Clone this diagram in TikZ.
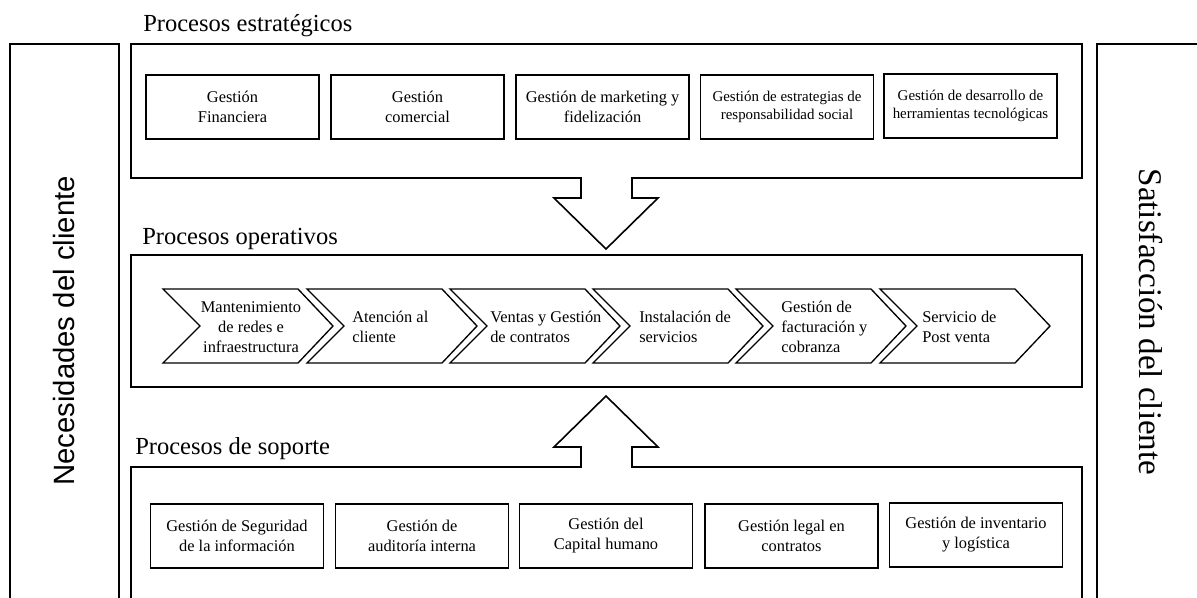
\documentclass[tikz,border=0pt]{standalone}
\usepackage{fontspec}
\setmainfont{Liberation Serif}
\newfontfamily\sidesans{Liberation Sans}
\begin{document}
\begin{tikzpicture}[x=0.75pt,y=-0.75pt,
  panel/.style={draw=black,line width=1.2pt},
  outline/.style={draw=black,line width=1.2pt,line join=miter},
  procbox/.style={draw=black,line width=1.2pt,rectangle,inner sep=2pt,
    minimum width=130pt,minimum height=48pt,align=center,
    font=\fontsize{12.3}{15}\selectfont},
  smallbox/.style={procbox,font=\fontsize{11.2}{13.5}\selectfont},
  chevshape/.style={draw=black,line width=1pt,line join=miter},
  chevtext/.style={inner sep=0pt,align=left,anchor=west,
    font=\fontsize{12.3}{15}\selectfont},
  title/.style={inner sep=0pt,anchor=base west,font=\fontsize{18.4}{22}\selectfont}]

\useasboundingbox (0,0) rectangle (1197,597);
\clip (0,0) rectangle (1197,597);

% side panels
\draw[panel] (10,640) -- (10,44) -- (119,44) -- (119,640);
\draw[panel] (1097,640) -- (1097,44) -- (1240,44);
\node[rotate=90,inner sep=0pt,font=\sidesans\fontsize{22}{26}\selectfont] (need) at (64,331) {Necesidades del cliente};
\node[rotate=-90,inner sep=0pt,font=\fontsize{24.8}{28}\selectfont] (satis) at (1151,322) {Satisfacción del cliente};

% strategic block with the downward arrow
\node[title] (tstrat) at (143,31) {Procesos estratégicos};
\draw[outline] (131,44) -- (1082,44) -- (1082,178) -- (632,178) -- (632,198)
  -- (658,198) -- (606,249) -- (554,198) -- (581,198) -- (581,178)
  -- (131,178) -- cycle;
\node[procbox] (s1) at (232.5,107) {Gestión\\Financiera};
\node[procbox] (s2) at (417.5,107) {Gestión\\comercial};
\node[procbox] (s3) at (602.5,107) {Gestión de marketing y\\fidelización};
\node[smallbox] (s4) at (787,107) {Gestión de estrategias de\\responsabilidad social};
\node[smallbox] (s5) at (970.5,106) {Gestión de desarrollo de\\herramientas tecnológicas};

% operational block
\node[title] (toper) at (142,244) {Procesos operativos};
\draw[outline] (131,255) rectangle (1082,387);
\foreach \x in {163,307,450,593,736,880}{
  \draw[chevshape] (\x,289) -- ++(135,0) -- ++(35,37) -- ++(-35,37)
    -- ++(-135,0) -- ++(37,-37) -- cycle;
}
\node[chevtext,anchor=center,align=center] (c1) at (251,327) {Mantenimiento\\de redes e\\infraestructura};
\node[chevtext] (c2) at (352,327) {Atención al\\cliente};
\node[chevtext] (c3) at (490,327) {Ventas y Gestión\\de contratos};
\node[chevtext] (c4) at (639,327) {Instalación de\\servicios};
\node[chevtext] (c5) at (781,327) {Gestión de\\facturación y\\cobranza};
\node[chevtext] (c6) at (922,327) {Servicio de\\Post venta};

% support block with the upward arrow
\node[title] (tsup) at (135,454) {Procesos de soporte};
\draw[outline] (131,640) -- (131,467) -- (581,467) -- (581,447) -- (554,447)
  -- (606,396) -- (658,447) -- (632,447) -- (632,467) -- (1082,467) -- (1082,640);
\node[procbox] (p1) at (237,536) {Gestión de Seguridad\\de la información};
\node[procbox] (p2) at (422,536) {Gestión de\\auditoría interna};
\node[procbox] (p3) at (606,536) {Gestión del\\Capital humano};
\node[procbox] (p4) at (791.5,536) {Gestión legal en\\contratos};
\node[procbox] (p5) at (976,535) {Gestión de inventario\\y logística};

\end{tikzpicture}
\end{document}
